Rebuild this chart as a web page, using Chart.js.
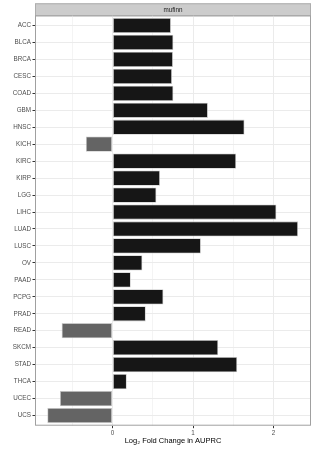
<!DOCTYPE html>
<html>
<head>
<meta charset="utf-8">
<script src="https://cdn.jsdelivr.net/npm/chart.js@4"></script>
<style>
html,body{margin:0;padding:0;background:#fff;}
#wrap{width:315px;height:450px;position:relative;}
</style>
</head>
<body>
<div id="wrap"><canvas id="c" width="315" height="450"></canvas></div>
<script>
const categories = ["ACC","BLCA","BRCA","CESC","COAD","GBM","HNSC","KICH","KIRC","KIRP","LGG","LIHC","LUAD","LUSC","OV","PAAD","PCPG","PRAD","READ","SKCM","STAD","THCA","UCEC","UCS"];
const values = [0.726,0.756,0.751,0.739,0.756,1.185,1.64,-0.331,1.536,0.59,0.545,2.036,2.305,1.098,0.371,0.227,0.632,0.413,-0.632,1.313,1.549,0.177,-0.653,-0.81];
const xTicks = [-0.5,0,0.5,1,1.5,2];
const xMajor = [0,1,2];
const panelTitle = "mufinn";
const xTitle = "Log\u2082 Fold Change in AUPRC";

const FONT = "'Liberation Sans', Arial, sans-serif";
const STRIP_TOP = 3.3;

const stripPlugin = {
  id: 'strip',
  beforeDraw(chart) {
    const {ctx, chartArea: a} = chart;
    ctx.save();
    ctx.fillStyle = '#cccccc';
    ctx.fillRect(a.left, STRIP_TOP, a.right - a.left, a.top - STRIP_TOP);
    ctx.strokeStyle = '#adadad';
    ctx.lineWidth = 1;
    ctx.strokeRect(a.left + 0.5, STRIP_TOP + 0.5, a.right - a.left - 1, a.top - STRIP_TOP);
    ctx.fillStyle = '#1a1a1a';
    ctx.font = "6.3px " + FONT;
    ctx.textAlign = 'center';
    ctx.textBaseline = 'middle';
    ctx.fillText(panelTitle, (a.left + a.right) / 2, (STRIP_TOP + a.top) / 2 + 0.5);
    ctx.restore();
  },
  afterDraw(chart) {
    const {ctx, chartArea: a} = chart;
    ctx.save();
    ctx.strokeStyle = '#a0a0a0';
    ctx.lineWidth = 1;
    ctx.strokeRect(a.left + 0.5, a.top + 0.5, a.right - a.left - 1, a.bottom - a.top - 1);
    ctx.restore();
  }
};

new Chart(document.getElementById('c'), {
  type: 'bar',
  data: {
    labels: categories,
    datasets: [{
      data: values,
      backgroundColor: ctx => values[ctx.dataIndex] >= 0 ? '#161616' : '#646464',
      borderColor: '#c8c8c8',
      borderWidth: 0.8,
      borderSkipped: false,
      categoryPercentage: 1,
      barPercentage: 0.9
    }]
  },
  plugins: [stripPlugin],
  options: {
    indexAxis: 'y',
    responsive: false,
    animation: false,
    devicePixelRatio: 1,
    layout: { padding: { top: 15.3, right: 4, left: 0, bottom: 0 } },
    plugins: { legend: { display: false }, tooltip: { enabled: false }, title: { display: false } },
    scales: {
      x: {
        type: 'linear',
        min: -0.963,
        max: 2.466,
        afterBuildTicks: s => { s.ticks = xTicks.map(v => ({ value: v })); },
        afterFit: s => { s.height = 24.3; },
        ticks: {
          autoSkip: false,
          maxRotation: 0,
          padding: 1.5,
          color: '#4d4d4d',
          font: { family: FONT, size: 6.3 },
          callback: v => xMajor.includes(v) ? String(v) : ''
        },
        grid: {
          color: c => xMajor.includes(c.tick ? c.tick.value : NaN) ? '#ebebeb' : '#f4f4f4',
          tickColor: c => xMajor.includes(c.tick ? c.tick.value : NaN) ? '#333333' : 'rgba(0,0,0,0)',
          tickLength: 2.5,
          lineWidth: 1
        },
        border: { display: false },
        title: {
          display: true,
          text: xTitle,
          color: '#000000',
          font: { family: FONT, size: 7.5 },
          padding: { top: 5, bottom: 5 }
        }
      },
      y: {
        type: 'category',
        offset: false,
        afterBuildTicks: s => { s._startValue = -0.6; s._valueRange = categories.length - 1 + 1.2; },
        afterFit: s => { s.width = 35; },
        ticks: {
          autoSkip: false,
          padding: 1.5,
          color: '#4d4d4d',
          font: { family: FONT, size: 6.3 }
        },
        grid: {
          offset: false,
          color: '#ebebeb',
          tickColor: '#333333',
          tickLength: 2.5,
          lineWidth: 1
        },
        border: { display: false }
      }
    }
  }
});
</script>
</body>
</html>
